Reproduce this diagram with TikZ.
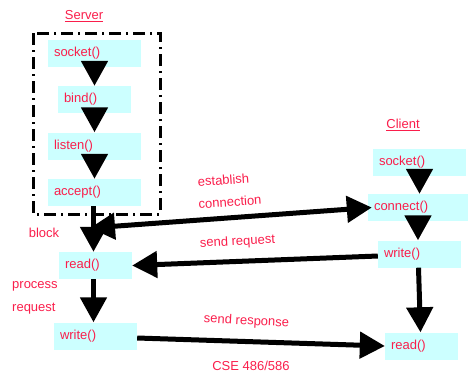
\documentclass[tikz,border=0pt]{standalone}
\usepackage{fontspec}
\setmainfont{Liberation Sans}
\usetikzlibrary{arrows.meta}
\definecolor{labelred}{RGB}{250,30,75}
\definecolor{boxcyan}{RGB}{204,255,255}
\tikzset{
  call/.style={fill=boxcyan, text=labelred, minimum height=27pt, inner xsep=6pt,
    inner ysep=0pt, align=left, text width=#1-12pt, font=\fontsize{13}{15}\selectfont},
  lbl/.style={text=labelred, inner sep=0pt, font=\fontsize{13}{15}\selectfont},
  bigtip/.tip={Triangle[width=26pt,length=25pt]},
  flow/.style={line width=5pt, -bigtip},
  group/.style={draw, line width=3pt, dash pattern=on 12pt off 5pt on 2pt off 5pt}
}
\begin{document}
\begin{tikzpicture}[x=1pt,y=-1pt]
\useasboundingbox (0,0) rectangle (468,373);

% server side
\draw[group] (33,33) rectangle (160,214);
\node[lbl] (server) at (84,16) {\underline{Server}};
\node[call=93pt] (ssock) at (94.5,53.5) {socket()};
\node[call=73pt] (sbind) at (94.5,99.5) {bind()};
\node[call=93pt] (slisten) at (94.5,146) {listen()};
\node[call=93pt] (saccept) at (94.5,192.5) {accept()};
\node[call=73pt] (sread) at (95.5,265.5) {read()};
\node[call=83pt] (swrite) at (95.5,336) {write()};

% client side
\node[lbl] (client) at (403,125) {\underline{Client}};
\node[call=93pt] (csock) at (419.5,162.5) {socket()};
\node[call=100pt] (cconn) at (418,207.5) {connect()};
\node[call=83pt] (cwrite) at (419.5,254) {write()};
\node[call=73pt] (cread) at (421.5,346) {read()};

% side notes
\node[lbl] (block) at (44,233) {block};
\node[lbl, anchor=west] (process) at (12,286) {process};
\node[lbl, anchor=west] (request) at (12,309) {request};
\node[lbl, rotate=4] (establish) at (223.5,180) {establish};
\node[lbl, rotate=4] (connection) at (230,202) {connection};
\node[lbl, rotate=3] (sendreq) at (237.5,242) {send request};
\node[lbl, rotate=-3] (sendresp) at (246.5,321.5) {send response};
\node[lbl] (course) at (251,366) {CSE 486/586};

% call sequence
\draw[flow] (ssock.south) -- (sbind.north);
\draw[flow] (sbind.south) -- (slisten.north);
\draw[flow] (slisten.south) -- (saccept.north);
\draw[flow] ([xshift=-1pt]saccept.south) -- ([xshift=-2pt]sread.north);
\draw[flow] ([xshift=-2pt]sread.south) -- ([xshift=-2pt]swrite.north);

\draw[flow] (csock.south) -- (csock.south |- cconn.north);
\draw[flow] (cconn.south) -- (cconn.south |- cwrite.north);
\draw[flow] ([xshift=-1pt]cwrite.south) -- ([xshift=-1pt]cread.north);

% messages
\coordinate (accepted) at (90,228);
\draw[line width=5pt, bigtip-bigtip] (accepted) -- ([xshift=4pt]cconn.west);
\draw[flow] ([yshift=-2pt]cwrite.west) -- (sread.east);
\draw[flow] ([yshift=-2pt]swrite.east) -- (cread.west);
\end{tikzpicture}
\end{document}
